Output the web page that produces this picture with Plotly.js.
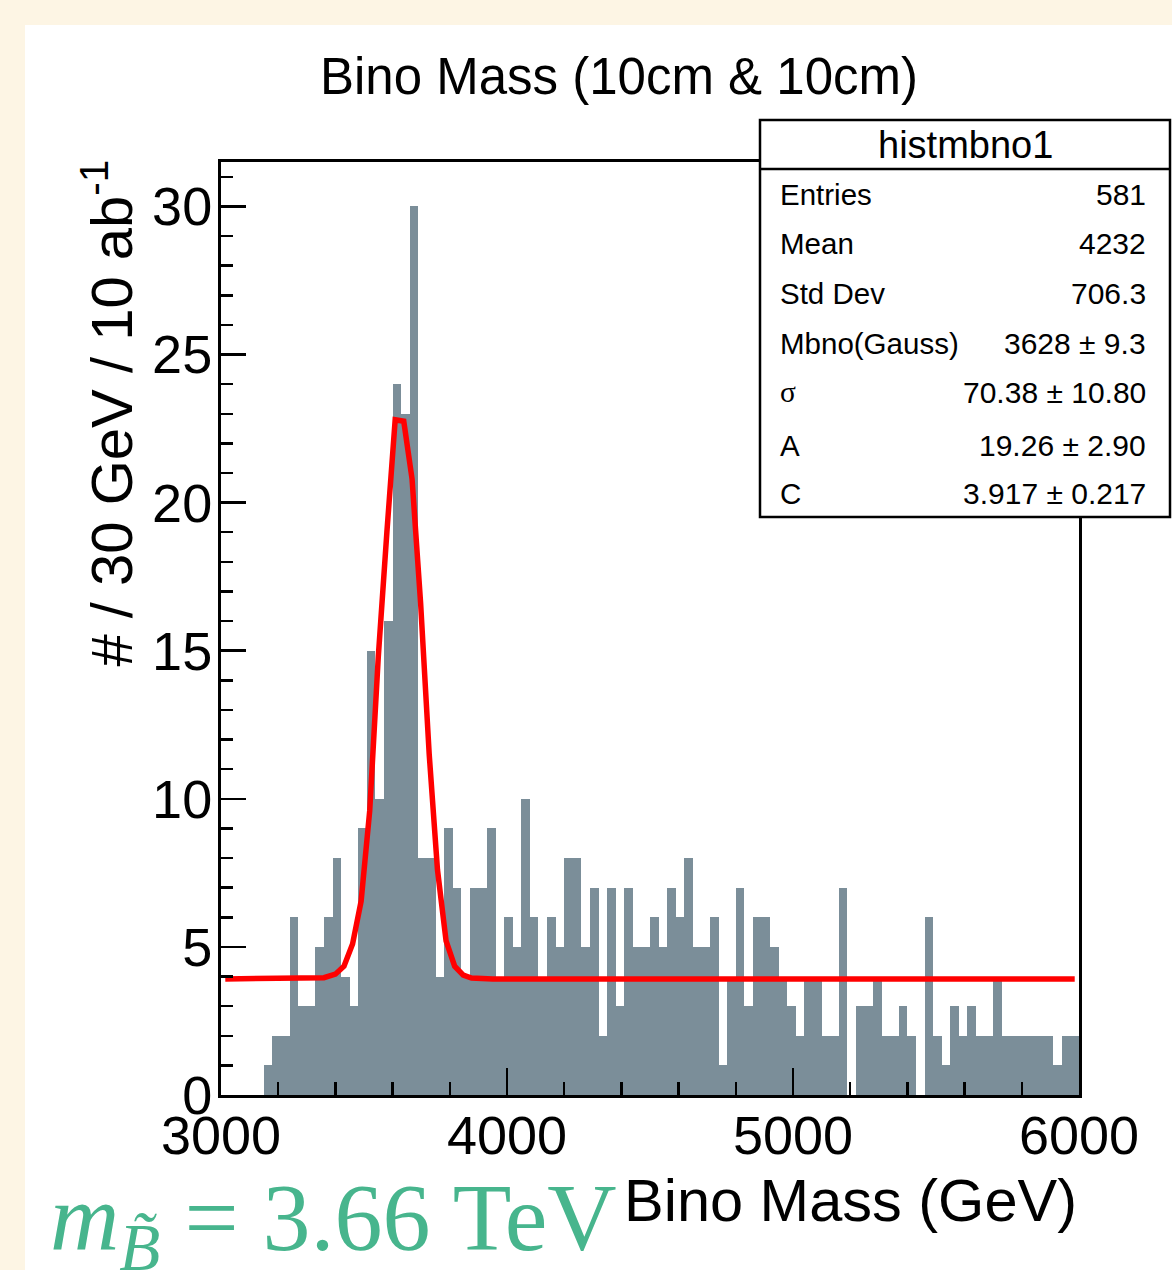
<!DOCTYPE html>
<html>
<head>
<meta charset="utf-8">
<script src="https://cdn.plot.ly/plotly-3.0.1.min.js"></script>
<style>
  html, body { margin:0; padding:0; background:#fdf5e4; width:1172px; height:1270px; overflow:hidden; }
  #chart { position:absolute; left:25px; top:25px; width:1147px; height:1245px; }
</style>
</head>
<body>
<div id="chart"></div>
<script>
// ---- data ----
const binStart = 3000;      // GeV, lower edge of first bin
const binWidth = 30;        // GeV
const counts = [
  0,0,0,0,0,1,2,2,6,3,
  3,5,6,8,4,3,9,15,10,16,
  24,23,30,8,8,4,9,7,4,7,
  7,9,4,6,5,10,6,4,6,5,
  8,8,5,7,2,7,3,7,5,5,
  6,5,7,6,8,5,5,6,1,4,
  7,3,6,6,5,4,3,2,4,4,
  2,2,7,0,3,3,4,2,2,3,
  2,0,6,2,1,3,2,3,2,2,
  4,2,2,2,2,2,2,1,2,2
];
// fit curve (Gauss + const)
const fitX = [3015,3300,3360,3400,3430,3460,3490,3520,3550,3580,3609,3639,3668,3698,3728,3757,3787,3817,3847,3876,3906,3950,4500,5000,5500,5985];
const fitY = [3.92,3.92,3.96,4.08,4.35,5.1,6.55,9.6,14.8,19.0,22.8,22.75,20.8,16.6,11.5,7.6,5.2,4.35,4.05,3.95,3.92,3.92,3.92,3.92,3.92,3.92];

const titleText = "Bino Mass (10cm &amp; 10cm)";
const xTitle = "Bino Mass (GeV)";
const yTitle = "# / 30 GeV / 10 ab<sup>-1</sup>";
const statsName = "histmbno1";
const statLabels = ["Entries","Mean","Std Dev","Mbno(Gauss)","σ","A","C"];
const statValues = ["581","4232","706.3","3628 ± 9.3","70.38 ± 10.80","19.26 ± 2.90","3.917 ± 0.217"];
const massNote = "<i>m</i><sub><i>B̃</i></sub> = 3.66 TeV";

// ---- geometry helpers (page px -> paper coords) ----
const W = 1147, H = 1245, OX = 25, OY = 25;
const mL = 196, mR = 93, mT = 137, mB = 175;
const pw = W - mL - mR, ph = H - mT - mB;
const px = x => (x - OX - mL) / pw;
const py = y => (H - mB - (y - OY)) / ph;

const centers = counts.map((_, i) => binStart + binWidth * (i + 0.5));

const FONT = "Liberation Sans, Arial, Helvetica, sans-serif";

const traces = [
  {
    type: 'bar', x: centers, y: counts, width: binWidth,
    marker: { color: '#7b8e99', line: { width: 0 } },
    hoverinfo: 'skip'
  },
  {
    type: 'scatter', mode: 'lines', x: fitX, y: fitY,
    line: { color: '#ff0000', width: 5.5 },
    hoverinfo: 'skip'
  }
];

const rowY = [195, 243, 293, 343, 392, 445, 493];
const annotations = [];
annotations.push({ xref:'paper', yref:'paper', x: px(965), y: py(145), text: statsName, showarrow:false,
  xanchor:'center', yanchor:'middle', font:{ family: FONT, size: 38, color:'black' } });
statLabels.forEach((lab, i) => {
  annotations.push({ xref:'paper', yref:'paper', x: px(778), y: py(rowY[i]), text: lab, showarrow:false,
    xanchor:'left', yanchor:'middle',
    font:{ family: lab === 'σ' ? "Liberation Serif, DejaVu Serif, serif" : FONT, size: 29.5, color:'black' } });
  annotations.push({ xref:'paper', yref:'paper', x: px(1148), y: py(rowY[i]), text: statValues[i], showarrow:false,
    xanchor:'right', yanchor:'middle', font:{ family: FONT, size: 30, color:'black' } });
});
// axis titles
annotations.push({ xref:'paper', yref:'paper', x: 1.0, y: py(1200), text: xTitle, showarrow:false,
  xanchor:'right', yanchor:'middle', font:{ family: FONT, size: 59.5, color:'black' } });
annotations.push({ xref:'paper', yref:'paper', x: px(107), y: py(158), text: yTitle, showarrow:false,
  textangle: -90, xanchor:'center', yanchor:'top', font:{ family: FONT, size: 58, color:'black' } });
// mass note
annotations.push({ xref:'paper', yref:'paper', x: px(48), y: py(1224), text: massNote, showarrow:false,
  xanchor:'left', yanchor:'middle', font:{ family: "Liberation Serif, DejaVu Serif, serif", size: 96, color:'#47b58d' } });

const shapes = [
  { type:'rect', xref:'paper', yref:'paper', x0: px(760), x1: px(1170), y0: py(517), y1: py(120),
    line:{ color:'black', width:2.5 }, fillcolor:'white', layer:'above' },
  { type:'line', xref:'paper', yref:'paper', x0: px(760), x1: px(1170), y0: py(169), y1: py(169),
    line:{ color:'black', width:2.5 }, layer:'above' }
];

const axisCommon = {
  ticks:'inside', tickcolor:'black', tickwidth:2.5,
  showline:true, linecolor:'black', linewidth:3, mirror:true,
  showgrid:false, zeroline:false,
  tickfont:{ family: FONT, size: 54, color:'black' },
  fixedrange:true
};

const layout = {
  width: W, height: H,
  margin: { l: mL, r: mR, t: mT, b: mB, pad: 0 },
  paper_bgcolor: 'white', plot_bgcolor: 'white',
  showlegend: false,
  bargap: 0,
  title: { text: titleText, xref:'container', yref:'container', x: (619 - OX) / W, y: 1 - (76 - OY) / H,
    xanchor:'center', yanchor:'middle', font:{ family: FONT, size: 51, color:'black' } },
  xaxis: Object.assign({}, axisCommon, {
    range: [3000, 6000], tick0: 3000, dtick: 1000, ticklen: 27, ticklabelstandoff: -9,
    minor: { tick0: 3000, dtick: 200, ticklen: 13, tickwidth: 2.5, tickcolor:'black', ticks:'inside', showgrid:false }
  }),
  yaxis: Object.assign({}, axisCommon, {
    range: [0, 31.5], tick0: 0, dtick: 5, ticklen: 25, ticklabelstandoff: -5,
    minor: { tick0: 0, dtick: 1, ticklen: 12, tickwidth: 2.5, tickcolor:'black', ticks:'inside', showgrid:false }
  }),
  shapes: shapes,
  annotations: annotations
};

Plotly.newPlot('chart', traces, layout, { displayModeBar: false, staticPlot: true });
</script>
</body>
</html>
